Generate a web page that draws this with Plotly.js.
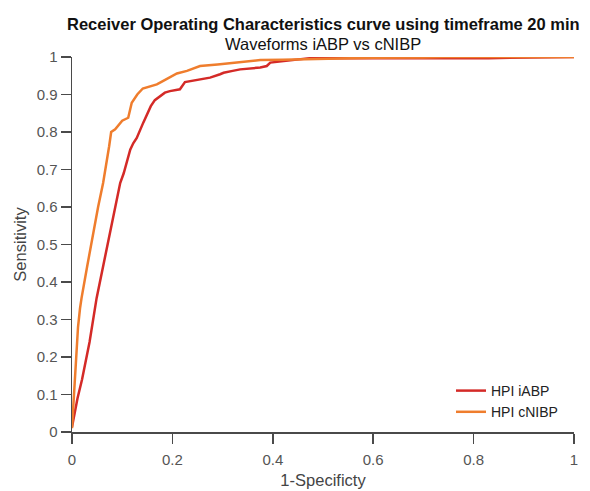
<!DOCTYPE html>
<html>
<head>
<meta charset="utf-8">
<script src="https://cdn.plot.ly/plotly-3.0.1.min.js"></script>
<style>html,body{margin:0;padding:0;background:#fff;}#chart{width:590px;height:491px;}</style>
</head>
<body>
<div id="chart"></div>
<script>
// False positive rate (1-Specificity) and sensitivity for each series
const iabpFpr = [0, 0.005, 0.011, 0.02, 0.035, 0.049, 0.06, 0.069, 0.075, 0.082, 0.092, 0.096, 0.103, 0.109, 0.116, 0.122, 0.129, 0.142, 0.15, 0.157, 0.165, 0.175, 0.185, 0.195, 0.215, 0.225, 0.255, 0.275, 0.295, 0.302, 0.32, 0.335, 0.375, 0.388, 0.395, 0.43, 0.475, 0.6, 0.83, 1];
const iabpTpr = [0.013, 0.05, 0.09, 0.14, 0.24, 0.357, 0.43, 0.486, 0.53, 0.575, 0.646, 0.664, 0.69, 0.718, 0.753, 0.77, 0.784, 0.825, 0.85, 0.869, 0.885, 0.896, 0.905, 0.909, 0.914, 0.933, 0.939, 0.945, 0.954, 0.958, 0.963, 0.967, 0.972, 0.976, 0.985, 0.99, 0.997, 0.997, 0.997, 1];
const cnibpFpr = [0, 0.002, 0.004, 0.008, 0.012, 0.016, 0.019, 0.03, 0.042, 0.052, 0.062, 0.068, 0.074, 0.078, 0.086, 0.1, 0.112, 0.119, 0.13, 0.141, 0.155, 0.169, 0.18, 0.195, 0.209, 0.229, 0.255, 0.29, 0.322, 0.35, 0.375, 0.42, 0.455, 0.5, 0.534, 0.6, 0.7, 0.74, 1.0];
const cnibpTpr = [0.01, 0.06, 0.1, 0.2, 0.28, 0.33, 0.357, 0.44, 0.53, 0.6, 0.664, 0.71, 0.762, 0.8, 0.807, 0.83, 0.838, 0.878, 0.9, 0.916, 0.922, 0.927, 0.935, 0.945, 0.956, 0.963, 0.976, 0.98, 0.985, 0.988, 0.992, 0.993, 0.994, 0.996, 0.998, 0.998, 0.999, 1.0, 1.0];
const seriesNames = ["HPI iABP", "HPI cNIBP"];
const xTickVals = [0, 0.2, 0.4, 0.6, 0.8, 1];
const xTickText = ["0", "0.2", "0.4", "0.6", "0.8", "1"];
const yTickVals = [0, 0.1, 0.2, 0.3, 0.4, 0.5, 0.6, 0.7, 0.8, 0.9, 1];
const yTickText = ["0", "0.1", "0.2", "0.3", "0.4", "0.5", "0.6", "0.7", "0.8", "0.9", "1"];

const FONT = "Liberation Sans, Arial, Helvetica, sans-serif";
const traces = [
  {x: iabpFpr, y: iabpTpr, name: seriesNames[0], type: "scatter", mode: "lines",
   line: {color: "#D42A27", width: 2.5}, cliponaxis: false},
  {x: cnibpFpr, y: cnibpTpr, name: seriesNames[1], type: "scatter", mode: "lines",
   line: {color: "#EF7D2D", width: 2.5}, cliponaxis: false}
];
const axisCommon = {
  showline: true, linecolor: "#4a4a4a", linewidth: 1.5,
  ticks: "outside", ticklen: 10, tickwidth: 1.5, tickcolor: "#4a4a4a",
  showgrid: false, zeroline: false, mirror: false,
  tickfont: {family: FONT, size: 15, color: "#555555"}
};
const layout = {
  width: 590, height: 491,
  margin: {l: 72, r: 16, t: 57, b: 59},
  paper_bgcolor: "#ffffff", plot_bgcolor: "#ffffff",
  showlegend: true,
  legend: {x: 0.755, y: 0.152, xanchor: "left", yanchor: "top",
           bgcolor: "rgba(0,0,0,0)", borderwidth: 0,
           font: {family: FONT, size: 14, color: "#222222"},
           tracegroupgap: 0},
  xaxis: Object.assign({}, axisCommon, {range: [0, 1], tickvals: xTickVals, ticktext: xTickText,
    ticklabelstandoff: 3,
    title: {text: "1-Specificty", font: {family: FONT, size: 16.5, color: "#444444"}, standoff: 8}}),
  yaxis: Object.assign({}, axisCommon, {range: [0, 1], tickvals: yTickVals, ticktext: yTickText,
    title: {text: "Sensitivity", font: {family: FONT, size: 16.5, color: "#444444"}, standoff: 6}}),
  annotations: [
    {text: "<b>Receiver Operating Characteristics curve using timeframe 20 min</b>",
     xref: "paper", yref: "paper", x: 0.5, y: 1, yshift: 33, xanchor: "center", yanchor: "middle",
     showarrow: false, font: {family: FONT, size: 16.5, color: "#111111"}},
    {text: "Waveforms iABP vs cNIBP",
     xref: "paper", yref: "paper", x: 0.5, y: 1, yshift: 13, xanchor: "center", yanchor: "middle",
     showarrow: false, font: {family: FONT, size: 16.5, color: "#111111"}}
  ]
};
Plotly.newPlot("chart", traces, layout, {displayModeBar: false, staticPlot: true});
</script>
</body>
</html>
